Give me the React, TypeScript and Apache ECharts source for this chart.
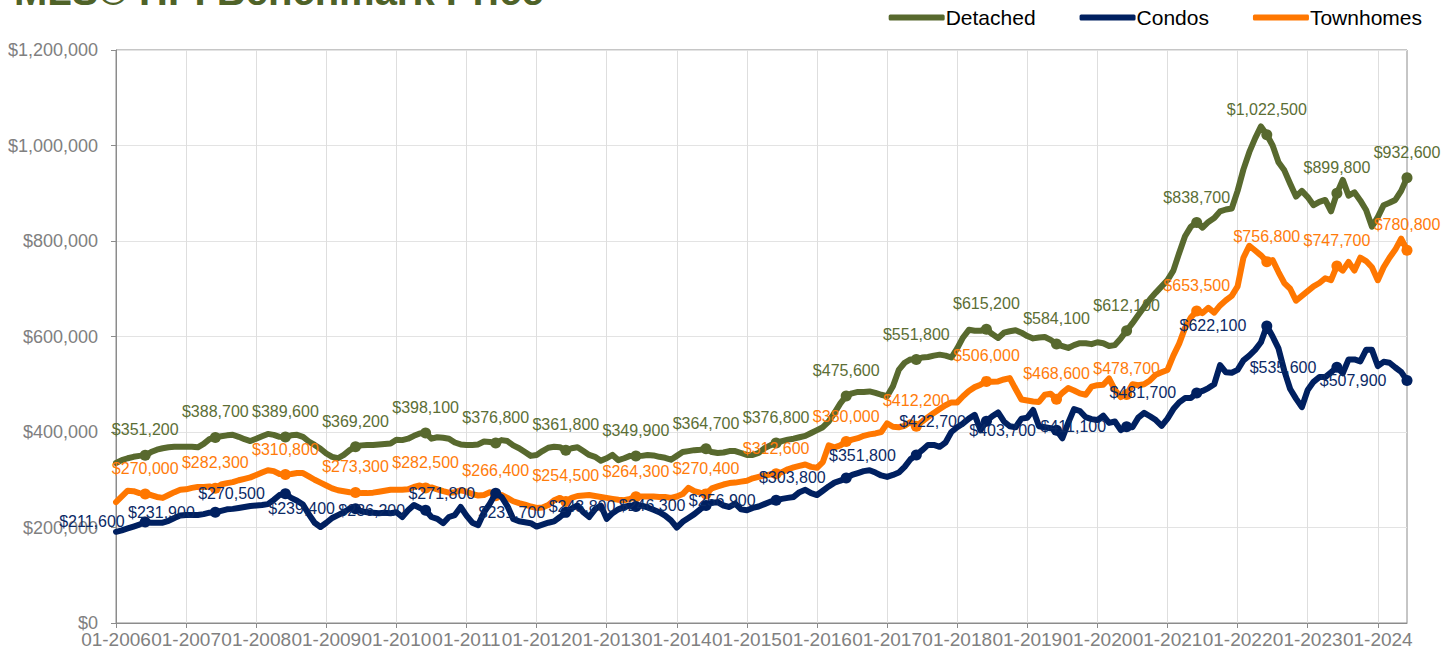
import React, { useEffect, useRef } from "react";
import * as echarts from "echarts";

const years = [2006, 2007, 2008, 2009, 2010, 2011, 2012, 2013, 2014, 2015, 2016, 2017, 2018, 2019, 2020, 2021, 2022, 2023, 2024];
const monthsInLastYear = 6;
const categories: string[] = [];
years.forEach((y, yi) => {
  const n = yi === years.length - 1 ? monthsInLastYear : 12;
  for (let m = 1; m <= n; m++) categories.push((m < 10 ? "0" : "") + m + "-" + y);
});

const seriesNames = ["Detached", "Condos", "Townhomes"];

const detached = [
  335000, 341000, 345000, 348000, 350000, 351200, 358000, 363000, 366000, 368000, 369000, 369000,
  369000, 369000, 368000, 375000, 385000, 388700, 391000, 393000, 394000, 390000, 385000, 381000,
  386000, 391000, 396000, 394000, 390000, 389600, 393000, 394000, 390000, 380000, 373000, 365000,
  355000, 348000, 345000, 352000, 362000, 369200, 372000, 373000, 373000, 374000, 375000, 376000,
  384000, 383000, 386000, 392000, 397000, 398100, 386000, 389000, 388000, 386000, 378000, 374000,
  373000, 373000, 374000, 380000, 379000, 376800, 383000, 381000, 372000, 366000, 358000, 350000,
  352000, 360000, 367000, 369000, 368000, 361800, 366000, 368000, 360000, 352000, 348000, 340000,
  345000, 352000, 341000, 345000, 350000, 349900, 350000, 352000, 351000, 348000, 346000, 342000,
  350000, 358000, 360000, 362000, 363000, 364700, 358000, 356000, 357000, 360000, 360000, 356000,
  352000, 352000, 356000, 366000, 372000, 376800, 381000, 384000, 386000, 389000, 392000, 398000,
  404000, 410000, 422000, 440000, 460000, 475600, 481000, 484000, 484000, 485000, 482000, 478000,
  475000, 496000, 530000, 545000, 552000, 551800, 556000, 557000, 560000, 562000, 560000, 556000,
  575000, 598000, 614000, 612000, 612000, 615200, 605000, 597000, 608000, 611000, 613000, 608000,
  601000, 596000, 598000, 599000, 593000, 584100, 580000, 576000, 582000, 586000, 586000, 584000,
  588000, 586000, 580000, 582000, 596000, 612100, 628000, 645000, 662000, 678000, 692000, 705000,
  718000, 738000, 775000, 810000, 830000, 838700, 828000, 840000, 848000, 862000, 866000, 868000,
  905000, 950000, 986000, 1015000, 1040000, 1022500, 1000000, 965000, 948000, 920000, 893000, 905000,
  892000, 875000, 882000, 886000, 862000, 899800, 928000, 895000, 902000, 885000, 865000, 830000,
  850000, 875000, 880000, 886000, 905000, 932600,
];

const condos = [
  191000, 194000, 198000, 202000, 206000, 211600, 210000, 210000, 210000, 214000, 220000, 225000,
  226000, 226000, 226000, 228000, 231000, 231900, 235000, 238000, 239000, 241000, 243000, 245000,
  246000, 247000, 249000, 258000, 268000, 270500, 262000, 256000, 248000, 228000, 210000, 201000,
  210000, 220000, 226000, 232000, 240000, 239400, 234000, 232000, 231000, 230000, 231000, 230000,
  232000, 222000, 236000, 247000, 241000, 236200, 222000, 218000, 209000, 222000, 226000, 243000,
  225000, 210000, 205000, 232000, 250000, 271800, 264000, 245000, 218000, 213000, 211000, 209000,
  202000, 206000, 210000, 213000, 222000, 231700, 240000, 246000, 232000, 222000, 238000, 246000,
  218000, 230000, 238000, 243000, 246000, 243800, 246000, 242000, 237000, 232000, 225000, 215000,
  200000, 212000, 220000, 228000, 238000, 246300, 252000, 253000, 246000, 243000, 250000, 238000,
  236000, 241000, 244000, 249000, 254000, 256900, 260000, 262000, 264000, 274000, 279000, 272000,
  268000, 277000, 286000, 294000, 298000, 303800, 310000, 314000, 318000, 320000, 315000, 309000,
  306000, 310000, 315000, 327000, 343000, 351800, 362000, 373000, 373000, 369000, 378000, 400000,
  410000, 418000, 428000, 436000, 404000, 422700, 433000, 441000, 422000, 412000, 410000, 428000,
  430000, 446000, 412000, 410000, 408000, 403700, 387000, 419000, 448000, 444000, 431000, 427000,
  425000, 434000, 419000, 422000, 404000, 411100, 410000, 430000, 440000, 433000, 425000, 413000,
  428000, 448000, 462000, 471000, 471000, 481700, 486000, 492000, 500000, 540000, 525000, 524000,
  530000, 550000, 560000, 572000, 588000, 622100, 600000, 575000, 528000, 490000, 470000, 452000,
  488000, 505000, 515000, 515000, 525000, 535600, 523000, 552000, 552000, 548000, 572000, 572000,
  538000, 547000, 545000, 535000, 526000, 507900,
];

const townhomes = [
  253000, 265000, 277000, 276000, 272000, 270000, 268000, 264000, 262000, 268000, 274000, 279000,
  280000, 283000, 285000, 285000, 286000, 282300, 290000, 293000, 295000, 299000, 302000, 305000,
  310000, 315000, 320000, 318000, 312000, 310800, 312000, 314000, 314000, 307000, 300000, 294000,
  288000, 282000, 278000, 276000, 274000, 273300, 272000, 272000, 273000, 275000, 277000, 279000,
  279000, 279000, 280000, 285000, 288000, 282500, 284000, 280000, 276000, 273000, 274000, 278000,
  275000, 270000, 267000, 268000, 274000, 266400, 268000, 262000, 255000, 251000, 248000, 244000,
  241000, 242000, 247000, 257000, 262000, 254500, 262000, 266000, 267000, 268000, 266000, 264000,
  262000, 260000, 258000, 257000, 260000, 264300, 265000, 265000, 265000, 264000, 264000, 262000,
  265000, 270000, 283000, 276000, 273000, 270400, 282000, 286000, 290000, 293000, 294000, 296000,
  298000, 303000, 306000, 309000, 311000, 312600, 316000, 322000, 326000, 329000, 332000, 327000,
  325000, 337000, 372000, 368000, 372000, 380000, 384000, 387000, 392000, 395000, 397000, 400000,
  418000, 411000, 410000, 413000, 421000, 412200, 422000, 431000, 440000, 448000, 456000, 462000,
  462000, 475000, 486000, 494000, 499000, 506000, 505000, 506000, 510000, 513000, 490000, 468000,
  466000, 464000, 463000, 478000, 480000, 468600, 482000, 492000, 487000, 481000, 478000, 495000,
  498000, 499000, 512000, 488000, 473000, 478700, 500000, 498000, 500000, 508000, 520000, 525000,
  530000, 560000, 585000, 618000, 640000, 653500, 649000, 660000, 650000, 665000, 676000, 685000,
  705000, 765000, 790000, 780000, 770000, 756800, 760000, 735000, 712000, 700000, 675000, 685000,
  695000, 705000, 712000, 722000, 718000, 747700, 738000, 756000, 738000, 765000, 758000, 745000,
  718000, 745000, 765000, 782000, 805000, 780800,
];

const yTicks = { min: 0, max: 1200000, interval: 200000 };

const colors = { Detached: "#58692e", Condos: "#002060", Townhomes: "#ff7700" };
const labelColors = { Detached: "#5b6e35", Condos: "#0b2a66", Townhomes: "#ff7b0a" };

const FONT = "'Liberation Sans', Arial, Helvetica, sans-serif";

function money(v: number) {
  return "$" + Math.round(v).toLocaleString("en-US");
}

export default function App() {
  const ref = useRef<HTMLDivElement>(null);

  useEffect(() => {
    document.body.style.margin = "0";
    if (!ref.current) return;
    const chart = echarts.init(ref.current, undefined, { renderer: "svg" });

    const isMark = (i: number) => i % 12 === 5 || i === categories.length - 1;

    const mkSeries = (name: string, values: number[], labelPos: "top" | "left", dist: number, z: number) => ({
      name,
      type: "line",
      z,
      data: values.map((v, i) =>
        isMark(i)
          ? { value: v, symbolSize: 11, label: { show: true } }
          : { value: v, symbolSize: 0 }
      ),
      symbol: "circle",
      showSymbol: true,
      showAllSymbol: true,
      lineStyle: { width: 6, color: (colors as any)[name], cap: "round", join: "round" },
      itemStyle: { color: (colors as any)[name] },
      label: {
        show: false,
        position: labelPos,
        distance: dist,
        fontSize: 16,
        fontFamily: FONT,
        color: (labelColors as any)[name],
        formatter: (p: any) => money(p.value),
      },
      emphasis: { disabled: true },
    });

    chart.setOption({
      animation: false,
      textStyle: { fontFamily: FONT },
      graphic: [
        {
          type: "text",
          x: 14,
          y: -9,
          style: {
            text: "MLS® HPI Benchmark Price",
            fontFamily: FONT,
            fontWeight: "bold",
            fontSize: 40,
            fill: "#4f6228",
            verticalAlign: "middle",
            align: "left",
          },
        },
      ],
      legend: {
        data: seriesNames,
        right: 16,
        top: 2,
        icon: "roundRect",
        itemWidth: 56,
        itemHeight: 6,
        itemGap: 44,
        textStyle: { fontSize: 21, color: "#000", fontFamily: FONT, padding: [0, 0, 0, -4] },
        selectedMode: false,
      },
      grid: {
        left: 116,
        right: 36,
        top: 50,
        bottom: 32,
        show: true,
        borderColor: "#8c8c8c",
        borderWidth: 1,
      },
      xAxis: {
        type: "category",
        data: categories,
        boundaryGap: false,
        axisLine: { lineStyle: { color: "#8c8c8c", width: 1 } },
        axisTick: {
          show: true,
          interval: (i: number) => i % 12 === 0,
          length: 5,
          lineStyle: { color: "#8c8c8c" },
        },
        axisLabel: {
          interval: (i: number) => i % 12 === 0,
          fontSize: 19,
          color: "#808080",
          margin: 7,
          fontFamily: FONT,
        },
        splitLine: {
          show: true,
          interval: (i: number) => i % 12 === 0,
          lineStyle: { color: "#dedede", width: 1 },
        },
      },
      yAxis: {
        type: "value",
        min: yTicks.min,
        max: yTicks.max,
        interval: yTicks.interval,
        axisLine: { show: true, lineStyle: { color: "#8c8c8c", width: 1 } },
        axisTick: { show: true, length: 5, lineStyle: { color: "#8c8c8c" } },
        axisLabel: {
          fontSize: 18,
          color: "#808080",
          margin: 18,
          fontFamily: FONT,
          formatter: (v: number) => money(v),
        },
        splitLine: { show: true, lineStyle: { color: "#e3e3e3", width: 1 } },
      },
      series: [
        mkSeries("Detached", detached, "top", 12, 2),
        mkSeries("Condos", condos, "left", 15, 4),
        mkSeries("Townhomes", townhomes, "top", 12, 3),
      ],
    });

    return () => chart.dispose();
  }, []);

  return <div ref={ref} style={{ width: 1443, height: 655 }} />;
}
